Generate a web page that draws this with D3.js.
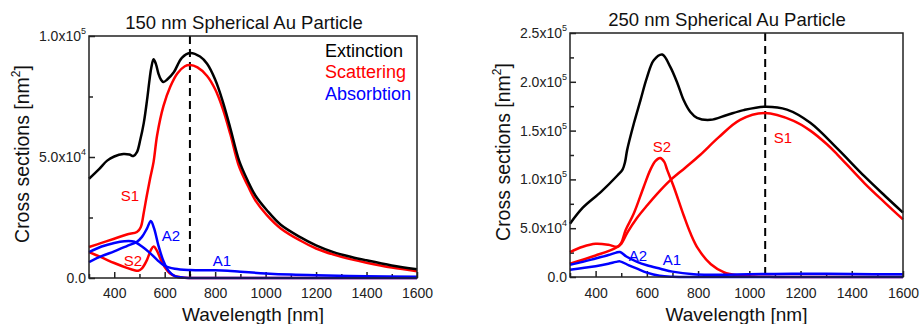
<!DOCTYPE html>
<html>
<head>
<meta charset="utf-8">
<script src="https://cdnjs.cloudflare.com/ajax/libs/d3/7.8.5/d3.min.js"></script>
<style>
  body { margin: 0; background: #fff; }
  svg { font-family: "Liberation Sans", Arial, sans-serif; }
</style>
</head>
<body>
<svg id="chart" width="920" height="324"></svg>
<script>
// cross sections: [wavelength nm, sigma in 1e4 nm^2]

// 150 nm particle
var ext150 = [[300,4.1],[340,4.5],[372,4.85],[400,5.02],[436,5.12],[460,5.1],[476,5.04],[490,5.2],[503,5.7],[517,6.4],[530,7.35],[540,8.2],[547,8.7],[556,9.04],[565,8.85],[575,8.45],[585,8.2],[595,8.1],[610,8.2],[636,8.5],[668,9.1],[700,9.3],[740,9.15],[768,8.85],[800,8.2],[830,7.3],[860,6.2],[895,4.85],[930,4.0],[960,3.4],[1005,2.8],[1060,2.2],[1137,1.69],[1200,1.35],[1269,1.07],[1340,0.87],[1400,0.73],[1500,0.52],[1600,0.36]];
var s1_150 = [[300,1.28],[350,1.45],[400,1.62],[450,1.8],[490,1.9],[505,2.1],[517,2.7],[529,3.4],[542,4.1],[556,4.8],[570,5.9],[595,7.1],[622,7.9],[650,8.45],[680,8.75],[700,8.8],[730,8.7],[768,8.35],[800,7.8],[830,7.0],[860,5.95],[895,4.6],[930,3.8],[960,3.2],[1005,2.6],[1060,2.05],[1137,1.55],[1200,1.22],[1269,0.97],[1340,0.77],[1400,0.63],[1500,0.43],[1600,0.28]];
var s2_150 = [[300,1.07],[350,0.85],[400,0.62],[450,0.42],[480,0.32],[495,0.3],[510,0.4],[530,0.75],[545,1.15],[556,1.3],[568,1.15],[585,0.75],[600,0.45],[620,0.2],[645,0.06],[680,0.01],[750,0],[1600,0]];
var a1_150 = [[300,1.07],[350,1.3],[400,1.45],[440,1.52],[480,1.5],[510,1.3],[540,1.05],[570,0.75],[600,0.5],[640,0.38],[700,0.33],[800,0.32],[850,0.3],[900,0.26],[1000,0.19],[1100,0.14],[1200,0.11],[1400,0.07],[1600,0.05]];
var a2_150 = [[300,0.66],[350,0.9],[400,1.1],[450,1.32],[490,1.5],[510,1.7],[530,2.05],[545,2.36],[558,2.05],[575,1.35],[595,0.7],[615,0.3],[640,0.08],[680,0.01],[750,0],[1600,0]];

// 250 nm particle
var ext250 = [[300,5.46],[350,7.1],[420,8.7],[485,10.4],[505,11.0],[515,11.8],[523,13.0],[550,15.8],[575,18.1],[600,20.4],[627,22.2],[660,22.8],[692,21.5],[720,19.8],[744,18.1],[770,16.9],[796,16.3],[848,16.1],[913,16.6],[978,17.1],[1062,17.45],[1147,17.15],[1238,15.8],[1342,13.2],[1450,10.3],[1530,8.3],[1600,6.6]];
var s1_250 = [[300,1.36],[400,2.2],[480,3.0],[500,3.4],[525,4.6],[560,6.0],[600,7.3],[650,8.8],[691,9.9],[750,11.2],[808,12.5],[880,14.3],[964,16.1],[1060,16.8],[1173,16.0],[1238,15.0],[1303,13.6],[1342,12.6],[1450,9.6],[1530,7.6],[1600,5.9]];
var s2_250 = [[300,2.55],[350,3.1],[400,3.4],[450,3.3],[485,3.1],[500,3.5],[517,4.8],[549,6.5],[588,9.25],[614,11.0],[634,11.9],[652,12.2],[668,11.8],[679,11.0],[705,9.25],[744,6.3],[770,4.5],[800,2.9],[850,1.3],[900,0.5],[960,0.15],[1020,0.04],[1100,0.01],[1600,0]];
var a1_250 = [[300,1.25],[350,1.55],[400,1.9],[450,2.25],[480,2.5],[495,2.56],[520,2.1],[562,1.55],[600,1.2],[653,0.85],[700,0.55],[783,0.27],[850,0.22],[950,0.26],[1100,0.32],[1250,0.33],[1400,0.3],[1600,0.27]];
var a2_250 = [[300,0.75],[350,0.92],[400,1.1],[450,1.35],[480,1.55],[495,1.6],[530,1.2],[562,0.85],[600,0.45],[650,0.13],[700,0.03],[800,0],[1600,0]];

var xTicks = [400, 600, 800, 1000, 1200, 1400, 1600];
var xMinor = [300, 500, 700, 900, 1100, 1300, 1500];
var yTicks150 = [0, 5e4, 1e5];
var yMinor150 = [2.5e4, 7.5e4];
var yTicks250 = [0, 5e4, 1e5, 1.5e5, 2e5, 2.5e5];
var yMinor250 = [2.5e4, 7.5e4, 1.25e5, 1.75e5, 2.25e5];

var legendItems = ['Extinction', 'Scattering', 'Absorbtion'];

var RED = '#ff0000', BLUE = '#0000ff', BLACK = '#000';

var svg = d3.select('#chart');

function sciLabel(sel) {
    sel.each(function(d) {
        var t = d3.select(this).text('');
        if (d === 0) { t.text('0.0'); return; }
        var e = Math.floor(Math.log10(d) + 1e-9);
        t.append('tspan').text((d / Math.pow(10, e)).toFixed(1) + 'x10');
        t.append('tspan').attr('dy', -7).attr('font-size', '9px').text(e);
    });
}

function drawPanel(cfg) {
    var g = svg.append('g');

    var x = d3.scaleLinear().domain([300, 1600]).range([cfg.left, cfg.right]);
    var y = d3.scaleLinear().domain([0, cfg.yMax]).range([cfg.bottom, cfg.top]);

    var line = d3.line()
        .x(function(d) { return x(d[0]); })
        .y(function(d) { return y(Math.max(0, d[1]) * 1e4); })
        .curve(d3.curveCatmullRom.alpha(0.5));

    // x axis, ticks pointing inward
    var xa = g.append('g')
        .attr('transform', 'translate(0,' + cfg.bottom + ')')
        .call(d3.axisBottom(x).tickValues(xTicks).tickSize(-6).tickSizeOuter(0)
            .tickPadding(cfg.xPad).tickFormat(d3.format('d')));
    g.append('g')
        .attr('transform', 'translate(0,' + cfg.bottom + ')')
        .call(d3.axisBottom(x).tickValues(xMinor).tickSize(-4).tickSizeOuter(0).tickFormat(''));

    var ya = g.append('g')
        .attr('transform', 'translate(' + cfg.left + ',0)')
        .call(d3.axisLeft(y).tickValues(cfg.yTicks).tickSize(-6).tickSizeOuter(0).tickPadding(3));
    ya.selectAll('.tick text').call(sciLabel);
    g.append('g')
        .attr('transform', 'translate(' + cfg.left + ',0)')
        .call(d3.axisLeft(y).tickValues(cfg.yMinor).tickSize(-4).tickSizeOuter(0).tickFormat(''));

    g.selectAll('.domain').remove();
    g.selectAll('.tick line').attr('stroke', '#222').attr('stroke-width', 1.5);
    g.selectAll('.tick text').attr('fill', '#222');
    xa.attr('font-size', 14).attr('font-family', null);
    ya.attr('font-size', 14).attr('font-family', null);

    // dashed marker at the dipole resonance
    g.append('line')
        .attr('x1', x(cfg.dash)).attr('x2', x(cfg.dash))
        .attr('y1', cfg.top).attr('y2', cfg.bottom)
        .attr('stroke', BLACK)
        .attr('stroke-width', 2)
        .style('stroke-dasharray', '8,5');

    var curves = [
        [cfg.s2, RED], [cfg.s1, RED], [cfg.ext, BLACK],
        [cfg.a2, BLUE], [cfg.a1, BLUE]
    ];
    curves.forEach(function(c) {
        g.append('path')
            .datum(c[0])
            .attr('fill', 'none')
            .attr('stroke', c[1])
            .attr('stroke-width', 2.5)
            .attr('stroke-linejoin', 'round')
            .attr('d', line);
    });

    // plot frame
    g.append('rect')
        .attr('x', cfg.left).attr('y', cfg.top)
        .attr('width', cfg.right - cfg.left)
        .attr('height', cfg.bottom - cfg.top)
        .attr('fill', 'none')
        .attr('stroke', '#222')
        .attr('stroke-width', 1.5);

    // mode labels
    cfg.labels.forEach(function(l) {
        g.append('text')
            .attr('x', l[1]).attr('y', l[2])
            .attr('font-size', '15px')
            .style('text-anchor', 'middle')
            .style('fill', l[3])
            .text(l[0]);
    });

    g.append('text')
        .attr('x', cfg.titleX).attr('y', cfg.titleY)
        .attr('font-size', '18.5px')
        .style('text-anchor', 'middle')
        .style('fill', '#111')
        .text(cfg.title);

    g.append('text')
        .attr('x', (cfg.left + cfg.right) / 2).attr('y', 321)
        .attr('font-size', '19px')
        .style('text-anchor', 'middle')
        .style('fill', '#111')
        .text('Wavelength [nm]');

    var yl = g.append('text')
        .attr('transform', 'translate(' + cfg.yLabelX + ',' + cfg.yLabelY + ') rotate(-90)')
        .attr('font-size', '19.5px')
        .style('text-anchor', 'middle')
        .style('fill', '#111');
    yl.append('tspan').text('Cross sections [nm');
    yl.append('tspan').attr('dy', -9).attr('font-size', '12px').text('2');
    yl.append('tspan').attr('dy', 9).text(']');

    return g;
}

drawPanel({
    left: 89, right: 417, top: 36, bottom: 278, yMax: 1e5,
    yTicks: yTicks150, yMinor: yMinor150, xPad: 10,
    ext: ext150, s1: s1_150, s2: s2_150, a1: a1_150, a2: a2_150,
    dash: 700,
    title: '150 nm Spherical Au Particle', titleX: 244, titleY: 29,
    yLabelX: 29, yLabelY: 154,
    labels: [['S1', 130, 201, RED], ['S2', 133, 266, RED], ['A2', 171, 241, BLUE], ['A1', 222, 266, BLUE]]
});

drawPanel({
    left: 570, right: 903, top: 33, bottom: 277, yMax: 2.5e5,
    yTicks: yTicks250, yMinor: yMinor250, xPad: 11,
    ext: ext250, s1: s1_250, s2: s2_250, a1: a1_250, a2: a2_250,
    dash: 1062,
    title: '250 nm Spherical Au Particle', titleX: 727, titleY: 26,
    yLabelX: 510, yLabelY: 152,
    labels: [['S2', 662, 152, RED], ['S1', 783, 143, RED], ['A2', 638, 261, BLUE], ['A1', 672, 265, BLUE]]
});

// legend, left panel only
var legendColors = [BLACK, RED, BLUE];
var legendY = [56.5, 77.5, 99.5];
svg.append('g').selectAll('text')
    .data(legendItems)
    .enter().append('text')
    .attr('x', 325)
    .attr('y', function(d, i) { return legendY[i]; })
    .attr('font-size', '18px')
    .style('fill', function(d, i) { return legendColors[i]; })
    .text(function(d) { return d; });
</script>
</body>
</html>
